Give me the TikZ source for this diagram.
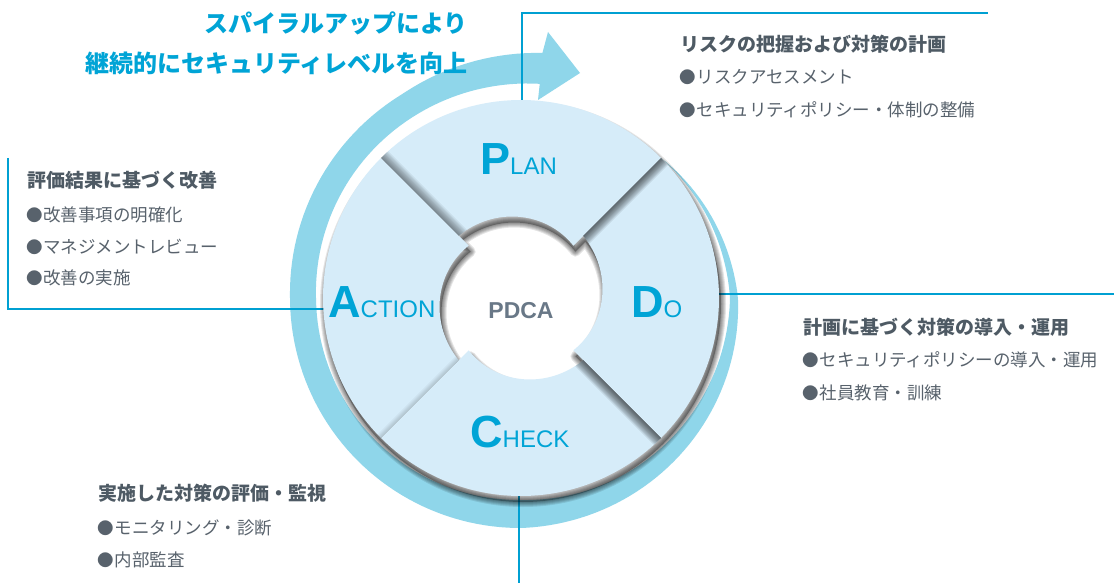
\documentclass[tikz,border=0pt]{standalone}
\usepackage{fontspec}
\newfontfamily\jp{Noto Sans CJK JP}
\newfontfamily\lat{Liberation Sans}
\definecolor{cyanline}{RGB}{0,160,210}
\definecolor{titlecol}{RGB}{0,164,214}
\definecolor{bandcol}{RGB}{143,214,234}
\definecolor{piececol}{RGB}{214,236,249}
\definecolor{headcol}{RGB}{78,90,100}
\definecolor{bodycol}{RGB}{88,98,108}
\definecolor{pdcacol}{RGB}{105,120,135}
\newcommand\bul[1]{\raisebox{0.2pt}{\fontsize{16.5}{16.5}\selectfont ●}\hspace{0.8pt}#1}
\begin{document}
\begin{tikzpicture}[x=1pt,y=-1pt,
  declare function={
    rout(\p)=(\p<0) ? 198+19*(\p+45)/45 : ((\p<90) ? 217+13*\p/90 : ((\p<180) ? 230+1*(\p-90)/90 : ((\p<240) ? 231+5*(\p-180)/60 : 236+10*(\p-240)/35)));
    rin(\p)=(\p<0) ? 198+11*(\p+45)/45 : ((\p<90) ? 209-7*\p/90 : ((\p<180) ? 202+3*(\p-90)/90 : ((\p<240) ? 205+6*(\p-180)/60 : 211+4*(\p-240)/35)));
    rhole(\p,\a)=88-14*(\p-\a)/90;
  },
  piece/.style 2 args={insert path={plot[domain=#1:#2, samples=46] ({521+198*cos(\x)},{298+198*sin(\x)}) -- plot[domain=#2:#1, samples=46] ({521+rhole(\x,#1)*cos(\x)},{298+rhole(\x,#1)*sin(\x)}) -- cycle}},
  hole/.style={insert path={
    plot[domain=-135:-45, samples=46] ({521+rhole(\x,-135)*cos(\x)},{298+rhole(\x,-135)*sin(\x)})
    -- plot[domain=-45:45, samples=46] ({521+rhole(\x,-45)*cos(\x)},{298+rhole(\x,-45)*sin(\x)})
    -- plot[domain=45:135, samples=46] ({521+rhole(\x,45)*cos(\x)},{298+rhole(\x,45)*sin(\x)})
    -- plot[domain=135:225, samples=46] ({521+rhole(\x,135)*cos(\x)},{298+rhole(\x,135)*sin(\x)}) -- cycle}},
  leader/.style={draw=cyanline, line width=1.2pt},
  title/.style={anchor=base east, inner sep=0, text=titlecol, font=\jp\bfseries\fontsize{24}{24}\selectfont},
  head/.style={anchor=base west, inner sep=0, text=headcol, font=\jp\bfseries\fontsize{19}{19}\selectfont},
  item/.style={anchor=base west, inner sep=0, text=bodycol, font=\jp\fontsize{17.5}{17.5}\selectfont},
  letter/.style={anchor=base west, inner sep=0, text=titlecol, font=\lat},
]
\useasboundingbox (0,0) rectangle (1114,583);
\fill[white] (0,0) rectangle (1114,583);

% spiral band with arrow head
\fill[bandcol] plot[domain=-45:275, samples=161] ({521+rout(\x)*cos(\x)},{298+rout(\x)*sin(\x)})
  -- (548,32) -- (580,73) -- (538,100)
  -- plot[domain=275:-45, samples=161] ({521+rin(\x)*cos(\x)},{298+rin(\x)*sin(\x)}) -- cycle;

% leader lines
\coordinate (tl0) at (522,110);
\coordinate (tl1) at (522,13);
\coordinate (tl2) at (988,13);
\coordinate (ll0) at (8,158);
\coordinate (ll1) at (8,309);
\coordinate (ll2) at (330,309);
\coordinate (rl1) at (712,294);
\coordinate (rl2) at (1114,294);
\coordinate (bl1) at (519,485);
\coordinate (bl2) at (519,583);
\draw[leader] (tl0) -- (tl1) -- (tl2);
\draw[leader] (ll0) -- (ll1) -- (ll2);
\draw[leader] (rl1) -- (rl2);
\draw[leader] (bl1) -- (bl2);

% drop shadow of the ring
\begin{scope}[shift={(2,6)}]
  \fill[black, opacity=0.3, even odd rule, hole] (521,298) circle[radius=198];
  \foreach \w in {2,4,6,8,10}
    \draw[black, opacity=0.1, line width=\w pt, line join=round, hole] (521,298) circle[radius=198];
\end{scope}

% the four pieces
\foreach \a/\b in {-135/-45,-45/45,45/135,135/225}
  \fill[piececol, piece={\a}{\b}];

% shadows along the cuts (cast on the next piece clockwise)
\foreach \c/\op/\n in {-135/0.05/10,-45/0.075/10,45/0.075/10,135/0.03/5}{
  \begin{scope}
    \pgfmathsetmacro\cc{\c+90}
    \clip[piece={\c}{\cc}];
    \foreach \k in {1,...,\n}
      \fill[black, opacity=\op, shift={(521,298)}] (\c:60) -- (\c:210) -- ++(\c+90:\k) -- ++(\c+180:150) -- cycle;
  \end{scope}
}

% labels in the ring
\node[letter] (plan) at (480,175) {\fontsize{45}{45}\selectfont\bfseries P\fontsize{24}{24}\selectfont\mdseries LAN};
\node[letter] (do) at (631,317) {\fontsize{45}{45}\selectfont\bfseries D\fontsize{24}{24}\selectfont\mdseries O};
\node[letter] (check) at (470,447) {\fontsize{45}{45}\selectfont\bfseries C\fontsize{24}{24}\selectfont\mdseries HECK};
\node[letter] (action) at (328,317) {\fontsize{45}{45}\selectfont\bfseries A\fontsize{24}{24}\selectfont\mdseries CTION};
\node[inner sep=0, text=pdcacol, font=\lat\bfseries\fontsize{23}{23}\selectfont] (pdca) at (521,311) {PDCA};

% title
\node[title] (t1) at (468,33) {スパイラルアップにより};
\node[title] (t2) at (468,73) {継続的にセキュリティレベルを向上};

% text blocks
\node[head] (ph) at (680,52) {リスクの把握および対策の計画};
\node[item] (p1) at (679,83.5) {\bul{リスクアセスメント}};
\node[item] (p2) at (679,116.5) {\bul{セキュリティポリシー・体制の整備}};

\node[head] (ah) at (27,187) {評価結果に基づく改善};
\node[item] (a1) at (26,221.5) {\bul{改善事項の明確化}};
\node[item] (a2) at (26,253.5) {\bul{マネジメントレビュー}};
\node[item] (a3) at (26,284.5) {\bul{改善の実施}};

\node[head] (dh) at (803,334) {計画に基づく対策の導入・運用};
\node[item] (d1) at (802,366.5) {\bul{セキュリティポリシーの導入・運用}};
\node[item] (d2) at (802,399.5) {\bul{社員教育・訓練}};

\node[head] (ch) at (98,500) {実施した対策の評価・監視};
\node[item] (c1) at (97,534.5) {\bul{モニタリング・診断}};
\node[item] (c2) at (97,566.5) {\bul{内部監査}};
\end{tikzpicture}
\end{document}
